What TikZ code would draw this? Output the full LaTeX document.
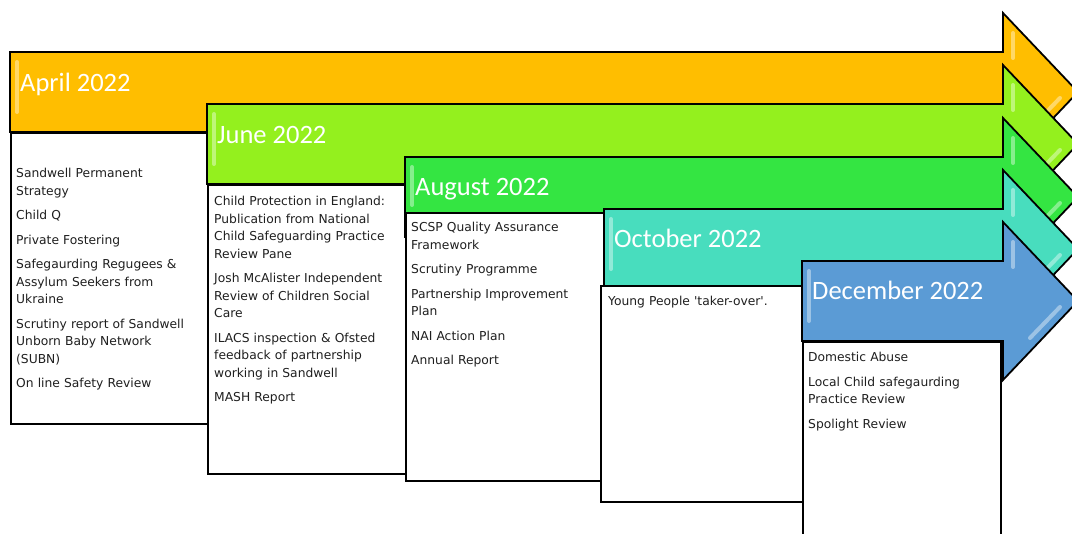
\documentclass[tikz,border=0pt]{standalone}
\usepackage{fontspec}
\newfontfamily\titlefont{Carlito}
\newfontfamily\itemfont{DejaVu Sans}
\usepackage{tikz}
\usetikzlibrary{positioning}

\definecolor{aprilfill}{HTML}{FFBE00}
\definecolor{junefill}{HTML}{94F01E}
\definecolor{augustfill}{HTML}{34E542}
\definecolor{octoberfill}{HTML}{48DDBE}
\definecolor{decemberfill}{HTML}{5B9BD5}

\begin{document}
\begin{tikzpicture}[x=1pt, y=-1pt,
    band/.style = {draw=black, line width=1.8pt, line join=miter},
    gloss/.style = {white, opacity=0.4, line width=4pt, line cap=round},
    month/.style = {font=\titlefont\fontsize{26.5}{30}\selectfont, text=white, anchor=base west, inner sep=0pt},
    box/.style = {draw=black, line width=1.8pt, fill=white, anchor=north west, inner sep=0pt},
    items/.style = {font={\itemfont\fontsize{12.3}{17.5}\selectfont\spaceskip=5.6pt plus 1pt\relax}, text=black!88, text width=186pt, align=left, inner sep=0pt}]
    \useasboundingbox (0,0) rectangle (1072,534);
    \clip (0,0) rectangle (1072,534);

    % April
    \draw[band, fill=aprilfill] (10,52) -- (1003,52) -- (1003,13) -- (1078,92) -- (1003,171) -- (1003,132) -- (10,132) -- cycle;
    \draw[gloss] (17,62) -- (17,112);
    \draw[gloss] (1013,33) -- (1013,58);
    \draw[gloss] (1060,98) -- (1030,129);
    \node[month] (aprTitle) at (20,92) {April 2022};
    \node[box, minimum width=197pt, minimum height=291pt] (aprBox) at (10,132) {};
    \node[items, below right=36pt and 6pt of aprBox.north west] (aprItems)
        {Sandwell Permanent\\ Strategy\\[7pt]
         Child Q\\[7pt]
         Private Fostering\\[7pt]
         Safegaurding Regugees \&\\ Assylum Seekers from\\ Ukraine\\[7pt]
         Scrutiny report of Sandwell\\ Unborn Baby Network\\ (SUBN)\\[7pt]
         On line Safety Review};

    % June
    \draw[band, fill=junefill] (207,104) -- (1003,104) -- (1003,65) -- (1078,144) -- (1003,223) -- (1003,184) -- (207,184) -- cycle;
    \draw[gloss] (214,114) -- (214,164);
    \draw[gloss] (1013,85) -- (1013,110);
    \draw[gloss] (1060,150) -- (1030,181);
    \node[month] (junTitle) at (217,144) {June 2022};
    \node[box, minimum width=198pt, minimum height=289pt] (junBox) at (207,184) {};
    \node[items, below right=12pt and 7pt of junBox.north west] (junItems)
        {Child Protection in England:\\ Publication from National\\ Child Safeguarding Practice\\ Review Pane\\[7pt]
         Josh McAlister Independent\\ Review of Children Social\\ Care\\[7pt]
         ILACS inspection \& Ofsted\\ feedback of partnership\\ working in Sandwell\\[7pt]
         MASH Report};

    % August
    \draw[band, fill=augustfill] (405,157) -- (1003,157) -- (1003,118) -- (1078,197) -- (1003,276) -- (1003,237) -- (405,237) -- cycle;
    \draw[gloss] (412,167) -- (412,205);
    \draw[gloss] (1013,138) -- (1013,163);
    \draw[gloss] (1060,203) -- (1030,234);
    \node[month] (augTitle) at (415,196) {August 2022};
    \node[box, minimum width=198pt, minimum height=268pt] (augBox) at (405,212) {};
    \node[items, below right=10pt and 6pt of augBox.north west] (augItems)
        {SCSP Quality Assurance\\ Framework\\[7pt]
         Scrutiny Programme\\[7pt]
         Partnership Improvement\\ Plan\\[7pt]
         NAI Action Plan\\[7pt]
         Annual Report};

    % October
    \draw[band, fill=octoberfill] (604,209) -- (1003,209) -- (1003,170) -- (1078,249) -- (1003,328) -- (1003,289) -- (604,289) -- cycle;
    \draw[gloss] (611,219) -- (611,269);
    \draw[gloss] (1013,190) -- (1013,215);
    \draw[gloss] (1060,255) -- (1030,286);
    \node[month] (octTitle) at (614,248) {October 2022};
    \node[box, minimum width=202pt, minimum height=216pt] (octBox) at (600,285) {};
    \node[items, below right=11pt and 8pt of octBox.north west] (octItems)
        {Young People \textquotesingle taker-over\textquotesingle.};

    % December
    \draw[band, fill=decemberfill] (802,261) -- (1003,261) -- (1003,222) -- (1078,301) -- (1003,380) -- (1003,341) -- (802,341) -- cycle;
    \draw[gloss] (809,271) -- (809,321);
    \draw[gloss] (1013,242) -- (1013,267);
    \draw[gloss] (1060,307) -- (1030,338);
    \node[month] (decTitle) at (812,300) {December 2022};
    \node[box, minimum width=198pt, minimum height=220pt] (decBox) at (802,341) {};
    \node[items, below right=11pt and 6pt of decBox.north west] (decItems)
        {Domestic Abuse\\[7pt]
         Local Child safegaurding\\ Practice Review\\[7pt]
         Spolight Review};
\end{tikzpicture}
\end{document}
